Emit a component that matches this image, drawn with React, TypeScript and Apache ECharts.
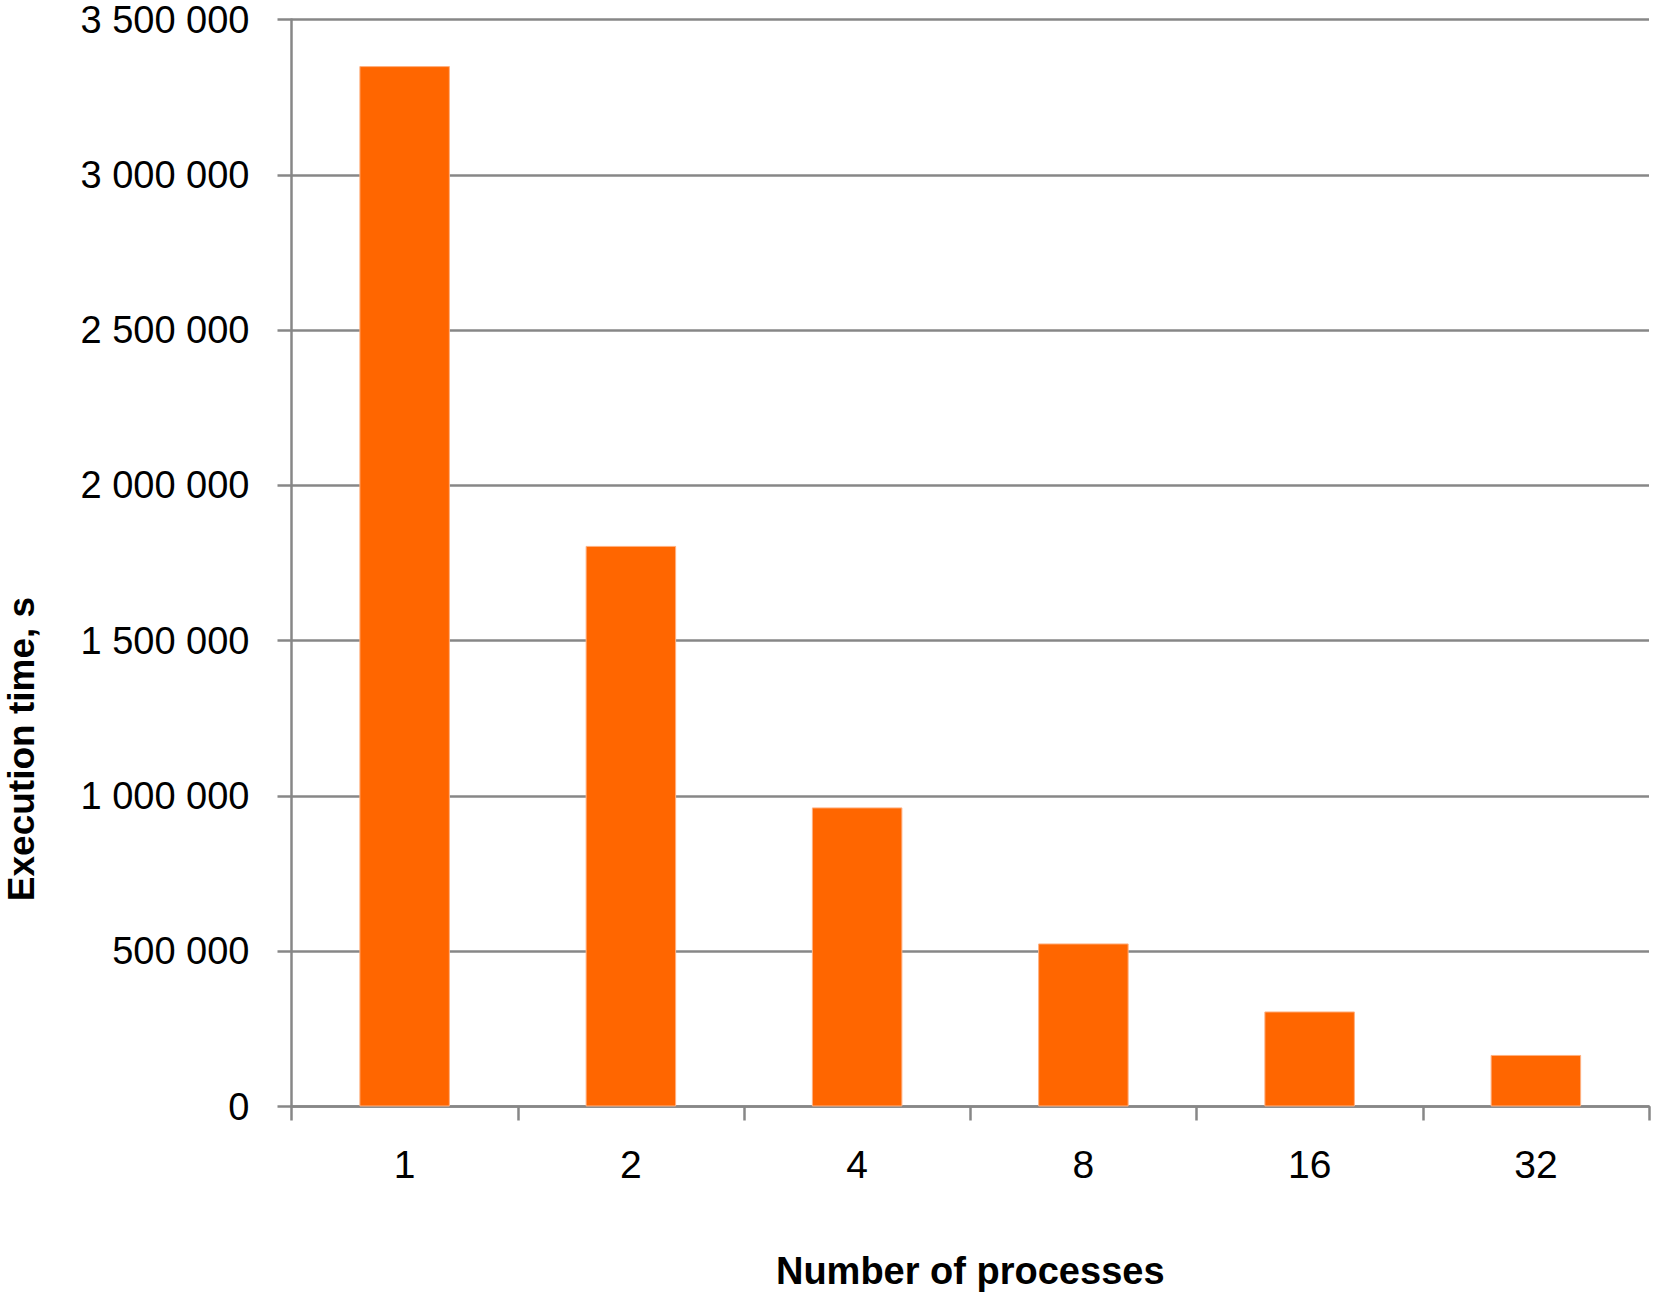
import React, { useEffect, useRef } from "react";
import * as echarts from "echarts";

const categories = ["1", "2", "4", "8", "16", "32"];
const executionTime = [3350000, 1805000, 963000, 525000, 306000, 166000];
const yTicks = { min: 0, max: 3500000, interval: 500000 };
const xTitle = "Number of processes";
const yTitle = "Execution time, s";

const fmt = (v: number) => String(Math.round(v)).replace(/\B(?=(\d{3})+(?!\d))/g, " ");

export default function App() {
  const ref = useRef<HTMLDivElement>(null);
  useEffect(() => {
    if (!ref.current) return;
    const chart = echarts.init(ref.current, null, { renderer: "svg" });
    const gray = "#878787";
    chart.setOption({
      animation: false,
      backgroundColor: "#ffffff",
      textStyle: { fontFamily: "Liberation Sans" },
      grid: { left: 291.5, right: 5, top: 19.5, bottom: 188.5, containLabel: false },
      xAxis: {
        type: "category",
        data: categories,
        name: xTitle,
        nameLocation: "middle",
        nameGap: 145,
        nameTextStyle: { fontSize: 38, fontWeight: "bold", color: "#000", fontFamily: "Liberation Sans" },
        axisLine: { lineStyle: { color: gray, width: 2.5 } },
        axisTick: { show: true, length: 14, lineStyle: { color: gray, width: 2.5 } },
        axisLabel: { fontSize: 39, color: "#000", margin: 38, fontFamily: "Liberation Sans" },
        splitLine: { show: false },
      },
      yAxis: {
        type: "value",
        min: yTicks.min,
        max: yTicks.max,
        interval: yTicks.interval,
        axisLine: { show: true, lineStyle: { color: gray, width: 2.5 } },
        axisTick: { show: true, length: 14, lineStyle: { color: gray, width: 2.5 } },
        axisLabel: { fontSize: 38, color: "#000", margin: 42, formatter: (v: number) => fmt(v), fontFamily: "Liberation Sans" },
        splitLine: { show: true, lineStyle: { color: gray, width: 2.5 } },
      },
      graphic: [
        {
          type: "text",
          x: 21,
          y: 749,
          rotation: Math.PI / 2,
          style: {
            text: yTitle,
            fontSize: 37,
            fontWeight: "bold",
            fill: "#000",
            align: "center",
            verticalAlign: "middle",
            fontFamily: "Liberation Sans",
          },
        },
      ],
      series: [
        {
          type: "bar",
          data: executionTime,
          barWidth: "40%",
          itemStyle: { color: "#FF6600", borderColor: "#FFB080", borderWidth: 1 },
        },
      ],
    });
    return () => chart.dispose();
  }, []);
  return (
    <div
      ref={ref}
      style={{ position: "absolute", left: 0, top: 0, width: 1654, height: 1295 }}
    />
  );
}
